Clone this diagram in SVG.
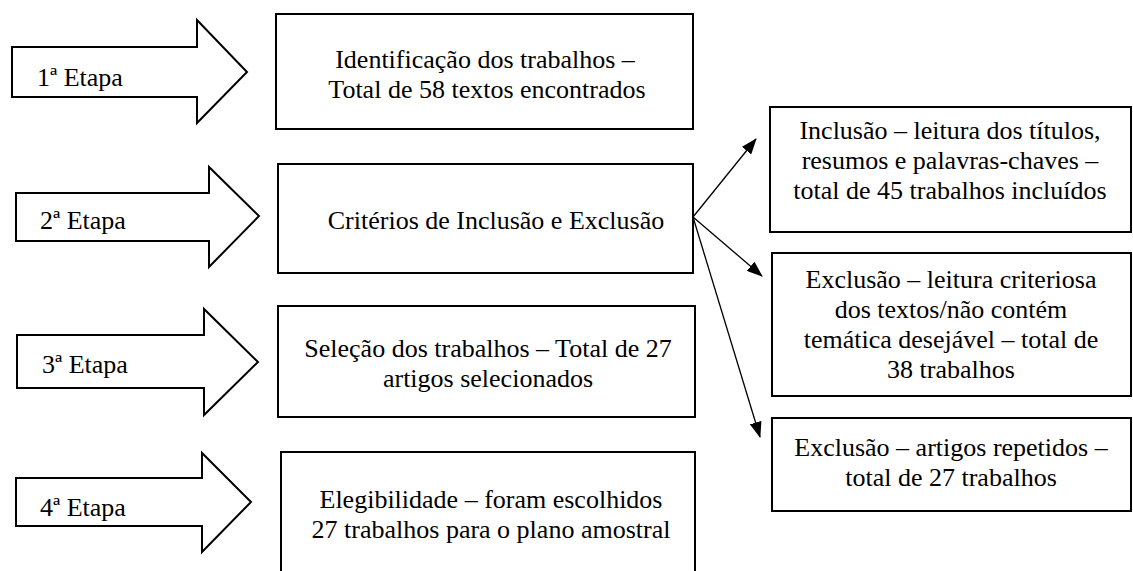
<svg xmlns="http://www.w3.org/2000/svg" width="1133" height="571" viewBox="0 0 1133 571">
<style>
.shape{fill:#fff;stroke:#000;stroke-width:2}
.t{font-family:"Liberation Serif","Times New Roman",serif;font-size:26px;fill:#000}
.m{text-anchor:middle}
.con{stroke:#000;stroke-width:1.3;fill:none}
</style>
<defs>
<marker id="ah" viewBox="0 0 16 12" refX="15" refY="6" markerWidth="16" markerHeight="12" markerUnits="userSpaceOnUse" orient="auto">
<path d="M0,0 L16,6 L0,12 Z" fill="#000"/>
</marker>
</defs>
<rect width="1133" height="571" fill="#fff"/>
<g id="etapa1">
<path class="shape" d="M12,47 H197 V20 L247,72 L197,123 V97 H12 Z"/>
<text class="t" x="37" y="86">1ª Etapa</text>
</g>
<g id="etapa2">
<path class="shape" d="M16,193 H209 V167 L259,216 L209,267 V241 H16 Z"/>
<text class="t" x="40" y="229">2ª Etapa</text>
</g>
<g id="etapa3">
<path class="shape" d="M17,335 H204 V309 L258,362 L204,415 V388 H17 Z"/>
<text class="t" x="42" y="373">3ª Etapa</text>
</g>
<g id="etapa4">
<path class="shape" d="M16,478 H202 V453 L251,502 L202,552 V526 H16 Z"/>
<text class="t" x="40" y="516">4ª Etapa</text>
</g>
<g id="box1">
<rect class="shape" x="276" y="14" width="417" height="115"/>
<text class="t m" x="485" y="68">Identificação dos trabalhos –</text>
<text class="t m" x="487" y="98">Total de 58 textos encontrados</text>
</g>
<g id="box2">
<rect class="shape" x="278" y="164" width="415" height="109"/>
<text class="t m" x="496" y="229">Critérios de Inclusão e Exclusão</text>
</g>
<g id="box3">
<rect class="shape" x="278" y="306" width="417" height="111"/>
<text class="t m" x="488" y="357">Seleção dos trabalhos – Total de 27</text>
<text class="t m" x="488" y="387">artigos selecionados</text>
</g>
<g id="box4">
<rect class="shape" x="281" y="452" width="414" height="130"/>
<text class="t m" x="491" y="508">Elegibilidade – foram escolhidos</text>
<text class="t m" x="491" y="538">27 trabalhos para o plano amostral</text>
</g>
<g id="inclusao">
<rect class="shape" x="770" y="107" width="361" height="125"/>
<text class="t m" x="950" y="139">Inclusão – leitura dos títulos,</text>
<text class="t m" x="950" y="169">resumos e palavras-chaves –</text>
<text class="t m" x="950" y="199">total de 45 trabalhos incluídos</text>
</g>
<g id="exclusao1">
<rect class="shape" x="772" y="253" width="359" height="143"/>
<text class="t m" x="951" y="288">Exclusão – leitura criteriosa</text>
<text class="t m" x="951" y="318">dos textos/não contém</text>
<text class="t m" x="951" y="348">temática desejável – total de</text>
<text class="t m" x="951" y="378">38 trabalhos</text>
</g>
<g id="exclusao2">
<rect class="shape" x="772" y="418" width="359" height="93"/>
<text class="t m" x="951" y="456">Exclusão – artigos repetidos –</text>
<text class="t m" x="951" y="486">total de 27 trabalhos</text>
</g>
<g id="connectors">
<line class="con" x1="693" y1="217" x2="756" y2="139" marker-end="url(#ah)"/>
<line class="con" x1="693" y1="217" x2="762" y2="276" marker-end="url(#ah)"/>
<line class="con" x1="693" y1="217" x2="760" y2="437" marker-end="url(#ah)"/>
</g>
</svg>
